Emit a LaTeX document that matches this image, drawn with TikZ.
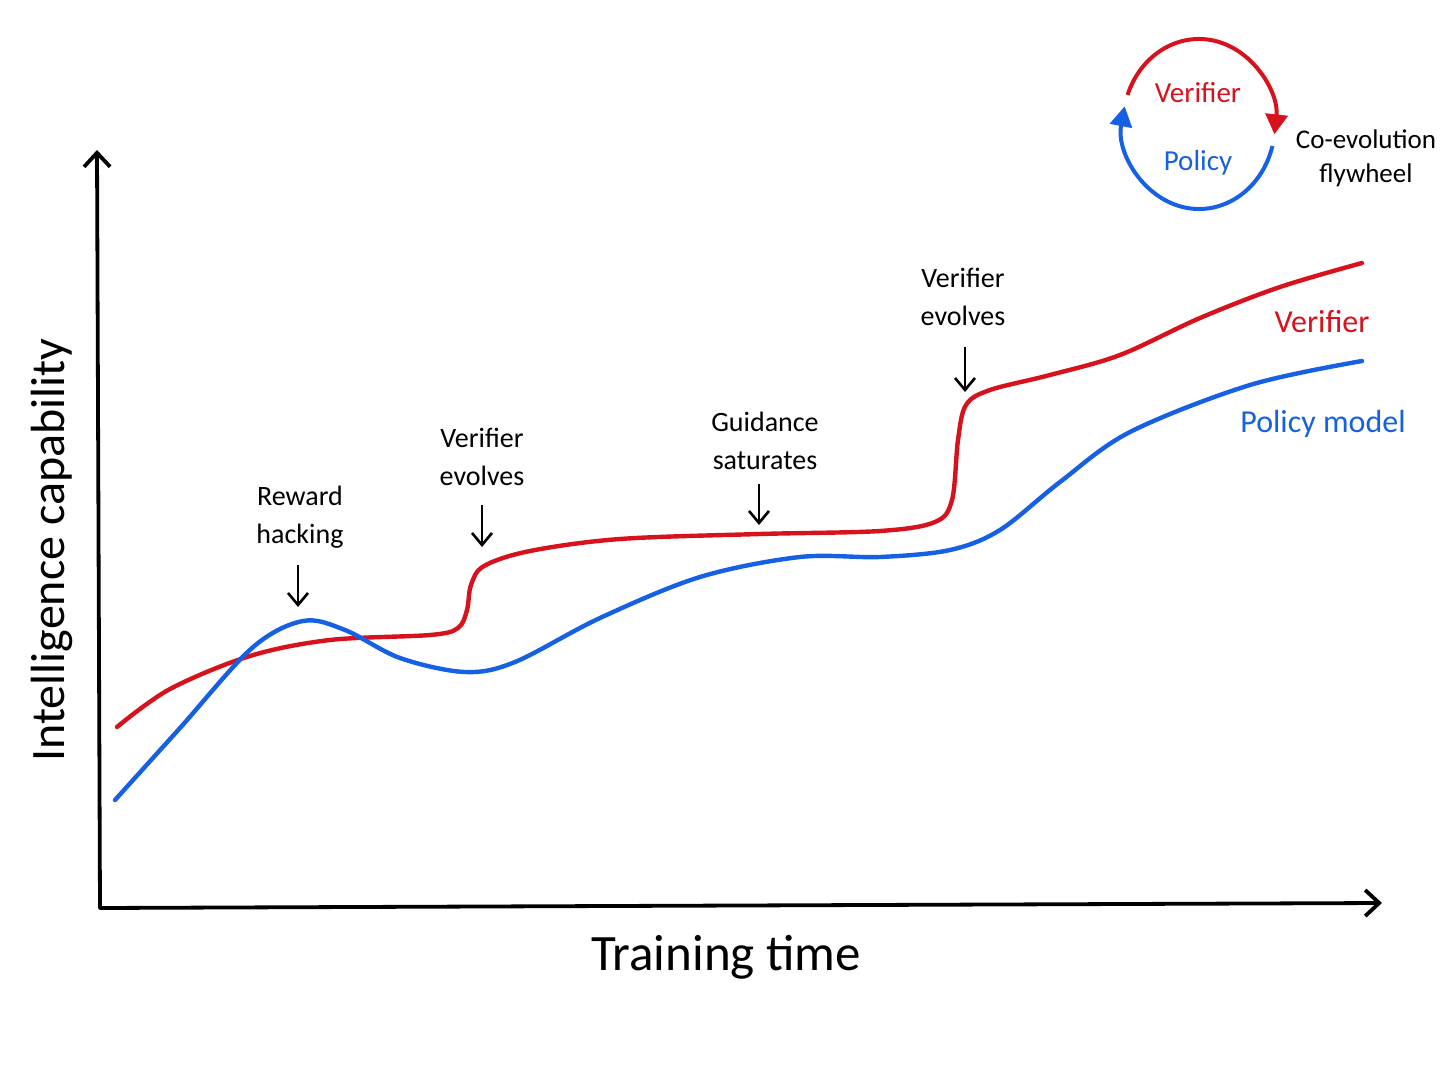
\documentclass[tikz,border=0pt]{standalone}
\usepackage{fontspec}
\setmainfont{Carlito}
\usetikzlibrary{arrows.meta}
\definecolor{vred}{RGB}{216,18,28}
\definecolor{pblue}{RGB}{22,96,228}
\begin{document}
\begin{tikzpicture}[x=0.5pt,y=-0.5pt,
  axis/.style={line width=1.9pt, line cap=round, -{Straight Barb[length=7pt,width=13pt,line width=1.9pt]}},
  curve/.style={line width=2.2pt, line cap=round},
  note/.style={align=center, inner sep=0pt, font=\fontsize{14}{19}\selectfont},
  pointer/.style={line width=1.3pt, -{Straight Barb[length=6pt,width=10pt,line width=1.3pt]}},
  wheel/.style={line width=2pt, -{Triangle[length=10pt,width=11pt]}},
]
\fill[white] (0,0) rectangle (1448,1086);
\path[use as bounding box] (0,0) rectangle (1448,1086);

% axes
\coordinate (O) at (100,908);
\coordinate (ytop) at (97,150);
\coordinate (xend) at (1382,903);
\draw[axis] (O) -- (ytop);
\draw[axis] (O) -- (xend);
\node[font=\fontsize{25.5}{30}\selectfont] (xlab) at (726,957) {Training time};
\node[font=\fontsize{24}{28}\selectfont, rotate=90] (ylab) at (52,550) {Intelligence capability};

% curves
\draw[curve, vred] plot[smooth, tension=0.55] coordinates {
 (117,727) (170,689) (250,656) (330,640) (430,635) (458,628) (467,610) (471,585) (484,566) (530,551)
 (620,539) (760,534) (880,531) (935,522) (952,500) (958,440) (966,405) (990,390) (1050,375)
 (1120,355) (1200,318) (1280,287) (1362,263)};
\draw[curve, pblue] plot[smooth, tension=0.55] coordinates {
 (115,800) (180,728) (252,648) (303,621) (345,630) (400,658) (465,672) (515,662)
 (600,618) (700,577) (800,557) (880,557) (950,550) (1000,530) (1060,482) (1130,432)
 (1250,385) (1362,361)};

% annotations
\node[note] (rh) at (300,517) {Reward\\hacking};
\coordinate (rhp) at (298,607);
\draw[pointer] (298,565) -- (rhp);

\node[note] (ve1) at (482,457) {Verifier\\evolves};
\coordinate (ve1p) at (482,547);
\draw[pointer] (482,505) -- (ve1p);

\node[note] (gs) at (765,441) {Guidance\\saturates};
\coordinate (gsp) at (759,525);
\draw[pointer] (759,484) -- (gsp);

\node[note] (ve2) at (963,297) {Verifier\\evolves};
\coordinate (ve2p) at (965,392);
\draw[pointer] (965,347) -- (ve2p);

\node[font=\fontsize{16}{20}\selectfont, text=vred] (vlab) at (1322,322) {Verifier};
\node[font=\fontsize{16}{20}\selectfont, text=pblue] (plab) at (1323,424) {Policy model};

% flywheel
\coordinate (wc) at (1199,124);
\draw[wheel, vred] ([shift={(-160:76 and 85)}]wc) arc[start angle=-160, end angle=7, x radius=76, y radius=85];
\draw[wheel, pblue] ([shift={(15:76 and 85)}]wc) arc[start angle=15, end angle=192, x radius=76, y radius=85];
\node[font=\fontsize{14.5}{18}\selectfont, text=vred] (wv) at (1198,93) {Verifier};
\node[font=\fontsize{14.5}{18}\selectfont, text=pblue] (wp) at (1198,163) {Policy};
\node[note, font=\fontsize{13.5}{17}\selectfont] (co) at (1366,158) {Co-evolution\\flywheel};
\end{tikzpicture}
\end{document}
